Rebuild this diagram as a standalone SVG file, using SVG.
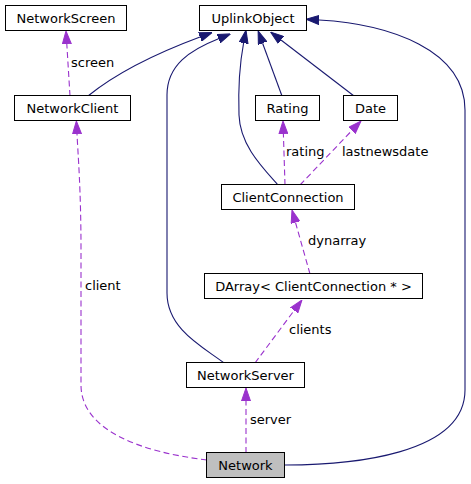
<svg xmlns="http://www.w3.org/2000/svg" width="471" height="484" viewBox="0 0 471 484">
<style>
.node rect{fill:#ffffff;stroke:#000000;stroke-width:1}
#n_network rect{fill:#bfbfbf}
text{font-family:"DejaVu Sans",sans-serif;font-size:13px;fill:#000000}
.node text{text-anchor:middle}
.inh{fill:none;stroke:#191970;stroke-width:1.1;marker-end:url(#ah_inh)}
.use{fill:none;stroke:#9a32cd;stroke-width:1.1;stroke-dasharray:6,3.5;marker-end:url(#ah_use)}
</style>
<defs>
<marker id="ah_inh" viewBox="0 0 13 10" refX="0" refY="5" markerWidth="13" markerHeight="10" markerUnits="userSpaceOnUse" orient="auto">
<path d="M0,0.5 L13,5 L0,9.5 z" fill="#191970" stroke="#191970" stroke-width="1"/>
</marker>
<marker id="ah_use" viewBox="0 0 13 10" refX="0" refY="5" markerWidth="13" markerHeight="10" markerUnits="userSpaceOnUse" orient="auto">
<path d="M0,0.5 L13,5 L0,9.5 z" fill="#9a32cd" stroke="#9a32cd" stroke-width="1"/>
</marker>
</defs>
<g id="connectors">
<path class="inh" d="M88,96 C120,70 165,50 200,37"/>
<path class="inh" d="M224,363 C205,348 167,330 167,293 L167,95 C167,65 190,50 218.5,38.7"/>
<path class="inh" d="M278,185 C262,167 240,145 239,115 C238,85 240,62 243.6,43"/>
<path class="inh" d="M282,96 L262.6,43.2"/>
<path class="inh" d="M354,96 L281,40"/>
<path class="inh" d="M285,465 C350,465 465,455 465,390 L465,110 C465,50 390,24 319,20"/>
<path class="use" d="M70,96 L66.8,44"/>
<path class="use" d="M207,460 C140,452 81,430 81,385 L81,250 C81,190 78,155 77,134"/>
<path class="use" d="M246,453 L246,401"/>
<path class="use" d="M255,363 L294.2,310.4"/>
<path class="use" d="M310,274 L295.5,222.5"/>
<path class="use" d="M285,185 L283.4,134"/>
<path class="use" d="M300,185 L352,130.4"/>
<text x="71" y="67">screen</text>
<text x="85" y="290">client</text>
<text x="250" y="424">server</text>
<text x="289" y="334">clients</text>
<text x="308" y="245">dynarray</text>
<text x="286" y="156">rating</text>
<text x="342" y="156">lastnewsdate</text>
</g>
<g id="n_networkscreen" class="node"><rect x="5.5" y="5.5" width="121" height="25"/><text x="66" y="22.5">NetworkScreen</text></g>
<g id="n_uplinkobject" class="node"><rect x="199.5" y="5.5" width="107" height="25"/><text x="253" y="22.5">UplinkObject</text></g>
<g id="n_networkclient" class="node"><rect x="14.5" y="95.5" width="116" height="25"/><text x="72.5" y="112.5">NetworkClient</text></g>
<g id="n_rating" class="node"><rect x="255.5" y="95.5" width="64" height="25"/><text x="287.5" y="112.5">Rating</text></g>
<g id="n_date" class="node"><rect x="343.5" y="95.5" width="54" height="25"/><text x="370.5" y="112.5">Date</text></g>
<g id="n_clientconnection" class="node"><rect x="221.5" y="184.5" width="133" height="25"/><text x="288" y="201.5">ClientConnection</text></g>
<g id="n_darray" class="node"><rect x="204.5" y="273.5" width="218" height="25"/><text x="313.5" y="290.5">DArray&lt; ClientConnection * &gt;</text></g>
<g id="n_networkserver" class="node"><rect x="186.5" y="362.5" width="118" height="25"/><text x="245.5" y="379.5">NetworkServer</text></g>
<g id="n_network" class="node"><rect x="206.5" y="452.5" width="78" height="25"/><text x="245.5" y="469.5">Network</text></g>
</svg>
